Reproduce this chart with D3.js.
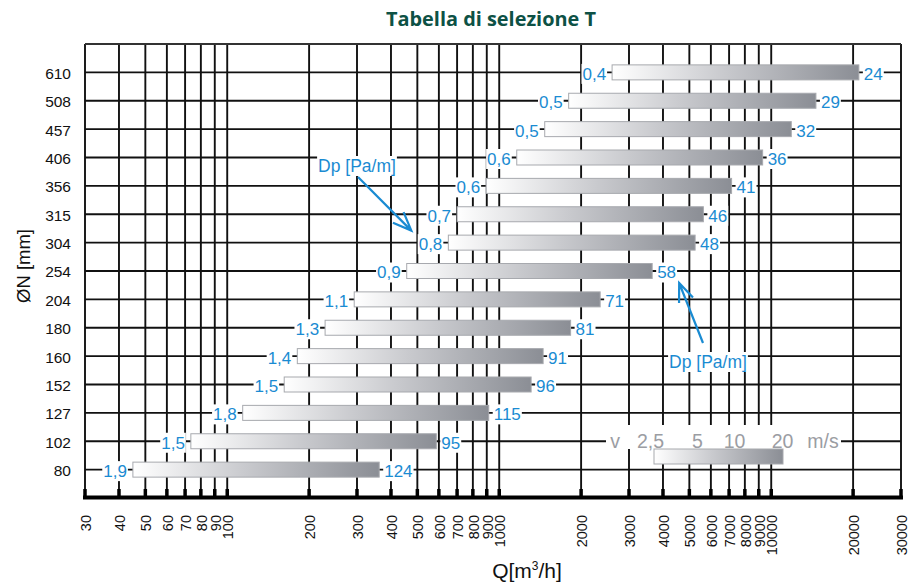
<!DOCTYPE html>
<html><head><meta charset="utf-8">
<script src="https://cdn.jsdelivr.net/npm/d3@7"></script>
<style>body{margin:0;background:#fff}svg{display:block}</style>
</head><body>
<script>
// ---- data ----
const sizes = ["610","508","457","406","356","315","304","254","204","180","160","152","127","102","80"];
const qMin  = [2600,1800,1470,1160,895,700,650,457,293,229,181,162,114,73.5,45];
const qMax  = [21000,14600,11850,9300,7150,5630,5250,3650,2350,1830,1450,1310,915,587,362];
const velocity = ["0,4","0,5","0,5","0,6","0,6","0,7","0,8","0,9","1,1","1,3","1,4","1,5","1,8","1,5","1,9"];
const dp = [24,29,32,36,41,46,48,58,71,81,91,96,115,95,124];
const xTicks = [30,40,50,60,70,80,90,100,200,300,400,500,600,700,800,900,1000,2000,3000,4000,5000,6000,7000,8000,9000,10000,20000,30000];
const legendLabels = ["v","2,5","5","10","20","m/s"];
const title = "Tabella di selezione T";

// ---- setup ----
const W = 909, H = 586;
const L = 85, R = 901, T = 44, B = 498;
const blue = "#1a8bd2", grid = "#111";
const FONT = "'Liberation Sans', Arial, sans-serif";
const svg = d3.select("body").append("svg").attr("width", W).attr("height", H);
const x = d3.scaleLog().domain([30,30000]).range([L,R]);
const y = d3.scalePoint().domain(sizes).range([T,B]).padding(1);

const defs = svg.append("defs");
const g = defs.append("linearGradient").attr("id","barGrad").attr("x1","0").attr("x2","1").attr("y1","0").attr("y2","0");
g.append("stop").attr("offset","0").attr("stop-color","#ffffff");
g.append("stop").attr("offset","0.45").attr("stop-color","#c9cace");
g.append("stop").attr("offset","1").attr("stop-color","#8b8e95");

// title
svg.append("text").attr("x",491).attr("y",26).attr("text-anchor","middle")
  .attr("font-family","'Open Sans', sans-serif").attr("font-weight","bold").attr("font-size",19)
  .attr("fill","#0d5145").attr("textLength",210).attr("lengthAdjust","spacingAndGlyphs").text(title);

// grid vertical
svg.append("g").selectAll("line").data(xTicks).join("line")
  .attr("x1",d=>x(d)).attr("x2",d=>x(d)).attr("y1",T).attr("y2",B)
  .attr("stroke",grid).attr("stroke-width",1.9);
// top line
svg.append("line").attr("x1",L).attr("x2",R).attr("y1",T).attr("y2",T).attr("stroke","#333").attr("stroke-width",1.9);
// horizontal rows
svg.append("g").selectAll("line").data(sizes).join("line")
  .attr("x1",L).attr("x2",R).attr("y1",d=>y(d)).attr("y2",d=>y(d))
  .attr("stroke",grid).attr("stroke-width",1.9);
// tick stubs + bottom axis
svg.append("g").selectAll("line").data(xTicks).join("line")
  .attr("x1",d=>x(d)).attr("x2",d=>x(d)).attr("y1",B-9).attr("y2",B)
  .attr("stroke","#000").attr("stroke-width",3.5);
svg.append("line").attr("x1",L-2).attr("x2",R+2).attr("y1",B-0.5).attr("y2",B-0.5).attr("stroke","#000").attr("stroke-width",4);

// x tick labels
svg.append("g").selectAll("text").data(xTicks).join("text")
  .attr("transform",d=>`translate(${x(d)+1},515) rotate(-90)`)
  .attr("text-anchor","end").attr("dy","0.35em")
  .attr("font-family",FONT).attr("font-size",14.5).attr("fill","#111")
  .text(d=>d);

// y tick labels
svg.append("g").selectAll("text").data(sizes).join("text")
  .attr("x",71).attr("y",d=>y(d)+1).attr("dy","0.35em").attr("text-anchor","end")
  .attr("font-family",FONT).attr("font-size",15.5).attr("fill","#111")
  .text(d=>d);

// axis titles
svg.append("text").attr("transform","translate(30,266) rotate(-90)").attr("text-anchor","middle")
  .attr("font-family",FONT).attr("font-size",18.5).attr("fill","#111").text("ØN [mm]");
const xt = svg.append("text").attr("x",527).attr("y",578).attr("text-anchor","middle")
  .attr("font-family",FONT).attr("font-size",21).attr("fill","#111");
xt.append("tspan").text("Q[m");
xt.append("tspan").attr("font-size",12).attr("dy",-8).text("3");
xt.append("tspan").attr("dy",8).text("/h]");

// helper: text with white background
function bgText(parent, tx, ty, str, anchor, color, size){
  const grp = parent.append("g");
  const rect = grp.append("rect").attr("fill","#fff");
  const t = grp.append("text").attr("x",tx).attr("y",ty).attr("dy","0.35em").attr("text-anchor",anchor)
    .attr("font-family",FONT).attr("font-size",size).attr("fill",color).text(str);
  const bb = t.node().getBBox();
  rect.attr("x",bb.x-1).attr("y",ty-10).attr("width",bb.width+2).attr("height",20);
  return grp;
}

const labels = svg.append("g");
sizes.forEach((s,i)=>{
  bgText(labels, x(qMin[i])-6, y(s)+1.5, velocity[i], "end", blue, 17);
  bgText(labels, x(qMax[i])+5, y(s)+1.5, dp[i], "start", blue, 17);
});

// bars
svg.append("g").selectAll("rect").data(sizes).join("rect")
  .attr("x",(d,i)=>x(qMin[i])).attr("width",(d,i)=>x(qMax[i])-x(qMin[i]))
  .attr("y",d=>y(d)-7.5).attr("height",15)
  .attr("fill","url(#barGrad)").attr("stroke","#a7a9ae").attr("stroke-width",1);

// legend
const lg = svg.append("g");
const ly = y("102");
lg.append("rect").attr("x",606).attr("y",425).attr("width",235).attr("height",24).attr("fill","#fff");
const legendX = [615,650.5,697.5,734.5,782.5,823];
legendLabels.forEach((s,i)=>{
  lg.append("text").attr("x",legendX[i]).attr("y",ly).attr("dy","0.35em").attr("text-anchor","middle")
    .attr("font-family",FONT).attr("font-size",19.5).attr("fill","#9b9da3").text(s);
});
lg.append("rect").attr("x",654).attr("y",449).attr("width",129).attr("height",15)
  .attr("fill","url(#barGrad)").attr("stroke","#a7a9ae").attr("stroke-width",1);

// annotations
function arrow(x1,y1,x2,y2){
  const a = Math.atan2(y1-y2,x1-x2), len=20, sp=22*Math.PI/180;
  const p = d3.path();
  p.moveTo(x1,y1); p.lineTo(x2,y2);
  p.moveTo(x2+len*Math.cos(a+sp), y2+len*Math.sin(a+sp)); p.lineTo(x2,y2);
  p.lineTo(x2+len*Math.cos(a-sp), y2+len*Math.sin(a-sp));
  svg.append("path").attr("d",p.toString()).attr("fill","none").attr("stroke",blue).attr("stroke-width",2.2);
}
const i304 = sizes.indexOf("304"), i254 = sizes.indexOf("254");
const ann = svg.append("g");
bgText(ann, 357, 166, "Dp [Pa/m]", "middle", blue, 17.5);
bgText(ann, 708, 362, "Dp [Pa/m]", "middle", blue, 17.5);
arrow(358, 177, x(qMin[i304])-37, y("304")-12);
arrow(703, 343, x(qMax[i254])+27, y("254")+12);
</script>
</body></html>
